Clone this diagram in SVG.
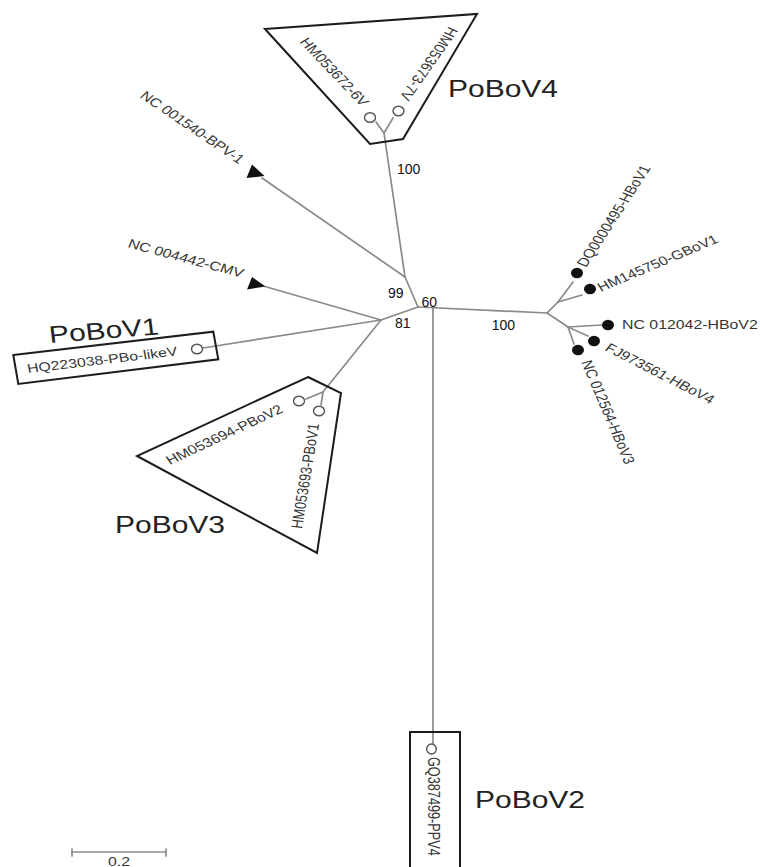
<svg xmlns="http://www.w3.org/2000/svg" width="760" height="867" viewBox="0 0 760 867">
<style>
.br{stroke:#8a8a8a;stroke-width:1.7;fill:none;stroke-linecap:round}
.box{stroke:#1c1c1c;stroke-width:2;fill:none;stroke-linejoin:miter}
.lf{font-family:"Liberation Sans",Arial,sans-serif;font-size:12.7px;fill:#353535}
.grp{font-family:"Liberation Sans",Arial,sans-serif;font-size:24px;fill:#222}
.bs{font-family:"Liberation Sans",Arial,sans-serif;font-size:14px;fill:#111}
.oc{fill:#fff;stroke:#555;stroke-width:1.4}
.dot{fill:#111}
.tri{fill:#111}
</style>
<rect width="760" height="867" fill="#fff"/>
<g id="connectors">
<line class="br" x1="418" y1="307" x2="547" y2="313"/>
<line class="br" x1="433" y1="307.7" x2="433" y2="744"/>
<line class="br" x1="418" y1="307" x2="405" y2="277"/>
<line class="br" x1="418" y1="307" x2="381" y2="320"/>
<line class="br" x1="405" y1="277" x2="384" y2="133"/>
<line class="br" x1="384" y1="133" x2="376" y2="122"/>
<line class="br" x1="384" y1="133" x2="393" y2="118"/>
<line class="br" x1="405" y1="277" x2="262" y2="178"/>
<line class="br" x1="381" y1="320" x2="265" y2="286.5"/>
<line class="br" x1="381" y1="320" x2="203" y2="348"/>
<line class="br" x1="381" y1="320" x2="323" y2="392"/>
<line class="br" x1="323" y1="392" x2="306" y2="399"/>
<line class="br" x1="323" y1="392" x2="321" y2="405"/>
<line class="br" x1="547" y1="313" x2="558" y2="302"/>
<line class="br" x1="558" y1="302" x2="573" y2="282"/>
<line class="br" x1="558" y1="302" x2="582" y2="295"/>
<line class="br" x1="547" y1="313" x2="568" y2="327"/>
<line class="br" x1="568" y1="327" x2="602" y2="325"/>
<line class="br" x1="568" y1="327" x2="588" y2="336"/>
<line class="br" x1="568" y1="327" x2="574" y2="344"/>
</g>
<g id="PoBoV4">
<polygon class="box" points="265,29 477,14 403,139 370,144"/>
<ellipse class="oc" cx="370" cy="117.5" rx="5.5" ry="4.8"/>
<ellipse class="oc" cx="398.5" cy="111" rx="5.5" ry="4.8"/>
<text class="lf" transform="translate(299,42) scale(1.25,1) rotate(52.6)">HM053672-6V</text>
<text class="lf" transform="translate(449,26) scale(1.25,1) rotate(119.3)">HM053673-7V</text>
<text class="grp" transform="translate(448,97) scale(1.25,1)">PoBoV4</text>
</g>
<g id="BPV1">
<polygon class="tri" points="252,164.5 246.5,178 264.5,176"/>
<text class="lf" transform="translate(139,97) scale(1.25,1) rotate(40.1)">NC 001540-BPV-1</text>
</g>
<g id="CMV">
<polygon class="tri" points="252,277 247,289.5 265.5,286.5"/>
<text class="lf" transform="translate(127,247) scale(1.25,1) rotate(18.5)">NC 004442-CMV</text>
</g>
<g id="PoBoV1">
<polygon class="box" points="13.3,355 213.3,331.7 218.3,359.3 18.3,384"/>
<ellipse class="oc" cx="197" cy="349" rx="5.5" ry="4.8"/>
<text class="lf" transform="translate(28,373) scale(1.25,1) rotate(-8.4)">HQ223038-PBo-likeV</text>
<text class="grp" transform="translate(50,343) scale(1.25,1) rotate(-5.6)">PoBoV1</text>
</g>
<g id="PoBoV3">
<polygon class="box" points="308,377 341,393 317,553 137,456"/>
<ellipse class="oc" cx="299" cy="401" rx="5.5" ry="4.8"/>
<ellipse class="oc" cx="319" cy="411" rx="5.5" ry="4.8"/>
<text class="lf" transform="translate(170,465) scale(1.25,1) rotate(-30.3)">HM053694-PBoV2</text>
<text class="lf" transform="translate(302,529) scale(1.25,1) rotate(-82.5)">HM053693-PBoV1</text>
<text class="grp" transform="translate(115,533) scale(1.25,1)">PoBoV3</text>
</g>
<g id="PoBoV2">
<rect class="box" x="410" y="732" width="50" height="140"/>
<ellipse class="oc" cx="431.5" cy="749" rx="4.8" ry="5"/>
<text class="lf" transform="translate(428,757) scale(1.25,1) rotate(90)">GQ387499-PPV4</text>
<text class="grp" transform="translate(475,808) scale(1.25,1)">PoBoV2</text>
</g>
<g id="HBoV">
<ellipse class="dot" cx="577" cy="273" rx="6" ry="5.3"/>
<ellipse class="dot" cx="590" cy="289" rx="6" ry="5.3"/>
<ellipse class="dot" cx="608" cy="325" rx="6" ry="5.3"/>
<ellipse class="dot" cx="594" cy="341" rx="6" ry="5.3"/>
<ellipse class="dot" cx="578" cy="350" rx="6" ry="5.3"/>
<text class="lf" transform="translate(586,268) scale(1.25,1) rotate(-62.5)">DQ0000495-HBoV1</text>
<text class="lf" transform="translate(601,292) scale(1.25,1) rotate(-27.9)">HM145750-GBoV1</text>
<text class="lf" transform="translate(622,329) scale(1.25,1)">NC 012042-HBoV2</text>
<text class="lf" transform="translate(604,350) scale(1.25,1) rotate(32.5)">FJ973561-HBoV4</text>
<text class="lf" transform="translate(581,362) scale(1.25,1) rotate(71.2)">NC 012564-HBoV3</text>
</g>
<g id="bootstrap">
<text class="bs" x="397" y="174">100</text>
<text class="bs" x="388" y="298">99</text>
<text class="bs" x="421.5" y="306.7">60</text>
<text class="bs" x="395" y="328.3">81</text>
<text class="bs" x="491.7" y="330">100</text>
</g>
<g id="scalebar">
<line class="br" x1="72" y1="852" x2="166" y2="852"/>
<line class="br" x1="72" y1="849" x2="72" y2="856"/>
<line class="br" x1="166" y1="849" x2="166" y2="856"/>
<text class="lf" text-anchor="middle" transform="translate(119,866) scale(1.25,1)">0.2</text>
</g>
</svg>
